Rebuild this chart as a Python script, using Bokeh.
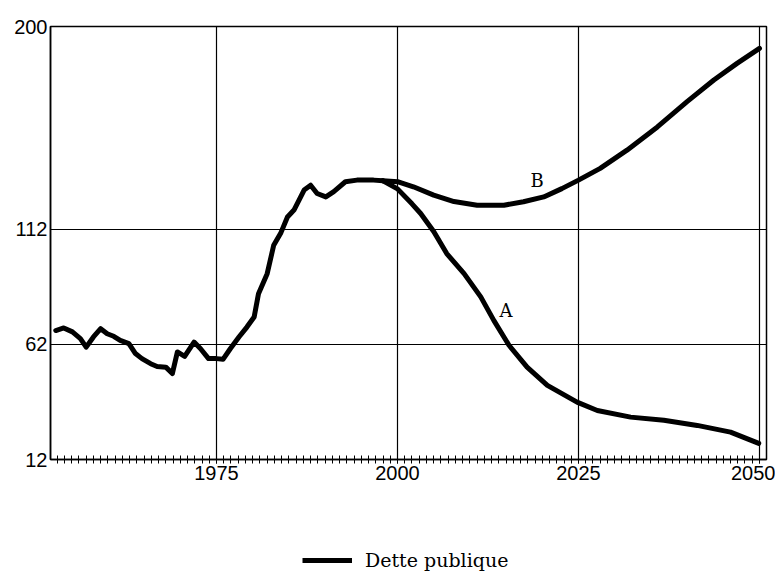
from bokeh.plotting import figure
from bokeh.layouts import column
from bokeh.models import FixedTicker, Range1d, Legend, LegendItem, Label
from bokeh.embed import file_html
from bokeh.resources import INLINE

# ---- data ----
hist_years = [1952.8, 1953.9, 1955.1, 1956.2, 1957.0, 1958.0, 1959.0, 1959.9, 1960.8,
              1961.7, 1962.9, 1963.8, 1964.7, 1965.9, 1966.8, 1968.0, 1968.9, 1969.6,
              1970.6, 1971.9, 1972.8, 1973.9, 1975.0, 1975.9, 1976.9, 1978.1, 1979.2,
              1980.2, 1980.8, 1982.0, 1982.9, 1983.9, 1984.8, 1985.7, 1986.4, 1987.1,
              1988.0, 1988.9, 1990.1, 1991.2, 1992.8, 1994.4, 1996.7, 1998.0]
hist_debt = [68.0, 69.1, 67.4, 64.5, 60.8, 65.2, 68.8, 66.6, 65.5,
             63.7, 62.3, 58.0, 55.8, 53.6, 52.4, 52.1, 49.3, 58.7,
             56.8, 63.0, 60.1, 55.8, 55.8, 55.5, 60.1, 65.2, 69.5,
             73.9, 84.0, 92.7, 105.0, 110.5, 117.3, 120.3, 124.6, 129.0,
             131.1, 127.5, 126.0, 128.3, 132.6, 133.3, 133.3, 133.0]

years_A = [1998.0, 2000.0, 2002.0, 2003.2, 2005.0, 2006.8, 2009.2, 2011.5, 2013.3, 2015.4,
           2017.9, 2020.7, 2024.8, 2027.6, 2032.2, 2036.8, 2041.4, 2046.0, 2049.9]
scen_A = [133.0, 129.5, 123.0, 118.8, 111.0, 101.4, 92.7, 82.6, 72.4, 61.6,
          52.1, 44.2, 36.9, 33.3, 30.4, 29.0, 26.8, 23.9, 19.0]

years_B = [1998.0, 2000.0, 2002.2, 2005.0, 2007.8, 2011.0, 2014.7, 2017.4, 2020.2, 2022.7,
           2025.0, 2028.0, 2031.7, 2035.9, 2040.0, 2043.7, 2046.9, 2050.0]
scen_B = [133.0, 132.6, 130.4, 126.8, 124.0, 122.4, 122.4, 123.9, 126.0, 129.6,
          133.3, 138.4, 146.3, 156.4, 167.4, 176.8, 184.0, 190.5]

x_ticks = [1975, 2000, 2025, 2050]
x_minor = list(range(1953, 2051))
y_ticks = [12, 62, 112, 200]

scenario_names = ["A", "B"]
scenario_label_x = [2015.0, 2019.3]
scenario_label_y = [76.8, 133.3]

legend_label = "Dette publique"

LW = 5

# ---- main figure ----
p = figure(width=775, height=492, output_backend="svg", toolbar_location=None,
           x_range=Range1d(1952.07, 2050.97), y_range=Range1d(12, 200),
           min_border_left=50, min_border_top=26, min_border_right=9,
           min_border_bottom=33, background_fill_color="white",
           border_fill_color="white")

p.outline_line_color = "black"
p.outline_line_width = 1.5

p.xaxis.ticker = FixedTicker(ticks=x_ticks, minor_ticks=x_minor)
p.yaxis.ticker = FixedTicker(ticks=y_ticks)
for ax in (p.xaxis[0], p.yaxis[0]):
    ax.axis_line_color = "black"
    ax.axis_line_width = 1.5
    ax.major_label_text_font = "Liberation Sans"
    ax.major_label_text_font_size = "20px"
    ax.major_label_text_color = "black"
p.xaxis.major_tick_in = 4
p.xaxis.major_tick_out = 4
p.xaxis.minor_tick_in = 4
p.xaxis.minor_tick_out = 4
p.xaxis.major_tick_line_color = "black"
p.xaxis.minor_tick_line_color = "black"
p.xaxis.major_label_standoff = 2
p.yaxis.major_tick_in = 0
p.yaxis.major_tick_out = 0
p.yaxis.minor_tick_line_color = None
p.yaxis.major_label_standoff = 3

p.xgrid.ticker = FixedTicker(ticks=x_ticks)
p.ygrid.ticker = FixedTicker(ticks=y_ticks)
p.xgrid.grid_line_color = "black"
p.ygrid.grid_line_color = "black"
p.xgrid.grid_line_width = 1.2
p.ygrid.grid_line_width = 1.2

p.line(hist_years, hist_debt, line_color="black", line_width=LW,
       line_join="round", line_cap="round")
p.line(years_A, scen_A, line_color="black", line_width=LW, line_join="round", line_cap="round")
p.line(years_B, scen_B, line_color="black", line_width=LW, line_join="round", line_cap="round")

for name, lx, ly in zip(scenario_names, scenario_label_x, scenario_label_y):
    p.add_layout(Label(x=lx, y=ly, text=name, text_align="center", text_baseline="middle",
                       text_font="DejaVu Serif", text_font_size="18px", text_color="black"))

# ---- legend strip (the series drawn here falls outside its view; only its legend shows) ----
q = figure(width=775, height=80, output_backend="svg", toolbar_location=None,
           x_axis_type=None, y_axis_type=None, x_range=Range1d(0, 1), y_range=Range1d(0, 1),
           min_border=0, outline_line_color=None, background_fill_color="white",
           border_fill_color="white")
q.grid.visible = False
r_leg = q.line(hist_years, hist_debt, line_color="black", line_width=LW)
legend = Legend(items=[LegendItem(label=legend_label, renderers=[r_leg])],
                location=(252, 1), orientation="horizontal",
                glyph_width=50, glyph_height=20, label_standoff=13,
                padding=0, margin=0, border_line_alpha=0, background_fill_alpha=0,
                label_text_font="DejaVu Serif", label_text_font_size="19px",
                label_text_color="black")
q.add_layout(legend)

open("out.html", "w").write(file_html(column(p, q, spacing=0), INLINE))
